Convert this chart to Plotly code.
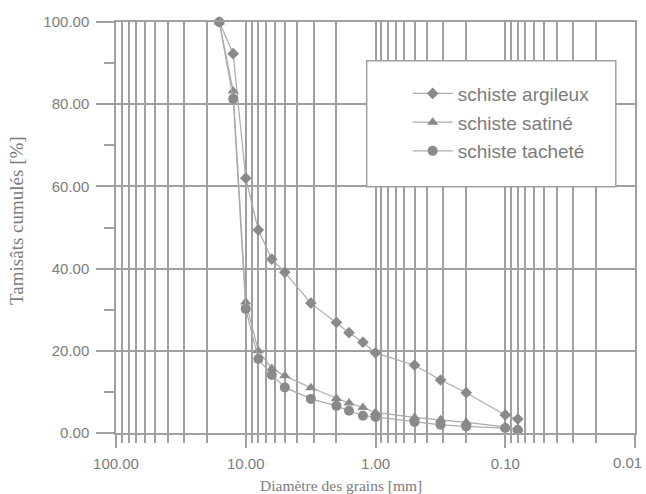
import plotly.graph_objects as go

# Sieve openings (mm) and cumulative passing (%) for the three schist samples
diametres = [16, 12.5, 10, 8, 6.3, 5, 3.15, 2, 1.6, 1.25, 1, 0.5, 0.315, 0.2, 0.1, 0.08]
argileux = [100, 92.3, 62.0, 49.4, 42.3, 39.1, 31.6, 26.9, 24.4, 22.1, 19.5, 16.5, 12.9, 9.8, 4.4, 3.4]
satine = [100, 83.2, 31.9, 20.0, 15.7, 13.9, 11.0, 8.4, 7.3, 6.2, 5.0, 3.8, 3.2, 2.6, 1.5, 1.0]
tachete = [100, 81.3, 30.2, 18.0, 14.1, 11.1, 8.3, 6.6, 5.4, 4.2, 3.9, 2.7, 2.0, 1.6, 1.2, 0.7]

noms = ["schiste argileux", "schiste satiné", "schiste tacheté"]
symboles = ["diamond", "triangle-up", "circle"]
tailles = [9, 10, 10]

# Decade labels; the last one sits at the right edge and is drawn as a
# right-anchored annotation so it stays inside the page
x_major = [100, 10, 1, 0.1, 0.01]
x_major_text = ["100.00", "10.00", "1.00", "0.10", ""]
x_last_label = "0.01"
x_minor = [m * d for d in [10, 1, 0.1, 0.01] for m in range(2, 10)]

GRID = "#a0a0a0"
TXT = "#7c7c7c"
MARK = "#8a8a8a"
LINE = "#ababab"

fig = go.Figure()
for i, (nom, serie) in enumerate(zip(noms, [argileux, satine, tachete])):
    fig.add_trace(go.Scatter(
        x=diametres, y=serie, name=nom, mode="lines+markers",
        line=dict(color=LINE, width=1.2),
        marker=dict(symbol=symboles[i], size=tailles[i], color=MARK),
        cliponaxis=False, legendgroup=nom,
    ))

fig.update_layout(
    width=646, height=494,
    margin=dict(l=116, r=11, t=22, b=61),
    paper_bgcolor="white", plot_bgcolor="white",
    font=dict(family="Liberation Sans, Arial, sans-serif", color=TXT),
    showlegend=True,
    legend=dict(
        x=0.562, y=0.872, xanchor="left", yanchor="top",
        bgcolor="rgba(0,0,0,0)", borderwidth=0,
        font=dict(size=19, color=TXT), itemwidth=40,
        traceorder="grouped", tracegroupgap=1,
    ),
    shapes=[dict(
        type="rect", xref="paper", yref="paper",
        x0=0.483, x1=0.963, y0=0.599, y1=0.906,
        fillcolor="white", line=dict(color=GRID, width=1.5), layer="above",
    )],
    annotations=[
        dict(text=x_last_label, xref="paper", yref="paper",
             x=(644 - 116) / 519, y=-0.0723, xanchor="right", yanchor="middle",
             showarrow=False, font=dict(size=15, color=TXT)),
        dict(text="Diamètre des grains [mm]", xref="paper", yref="paper",
             x=(341 - 116) / 519, y=-0.127, xanchor="center", yanchor="middle",
             showarrow=False, font=dict(family="Liberation Serif, Times New Roman, serif", size=15.5, color=TXT)),
        dict(text="Tamisâts cumulés [%]", xref="paper", yref="paper",
             x=-0.193, y=0.518, xanchor="center", yanchor="middle", textangle=-90,
             showarrow=False, font=dict(family="Liberation Serif, Times New Roman, serif", size=19, color=TXT)),
    ],
)

fig.update_xaxes(
    type="log", range=[2, -2], automargin=False,
    tickmode="array", tickvals=x_major, ticktext=x_major_text,
    ticks="outside", ticklen=13, tickwidth=1.5, tickcolor=GRID,
    showgrid=True, gridcolor=GRID, gridwidth=1.5,
    minor=dict(tickmode="array", tickvals=x_minor, ticks="outside", ticklen=8,
               tickwidth=1.5, tickcolor=GRID, showgrid=True, gridcolor=GRID, gridwidth=1.5),
    showline=True, linecolor=GRID, linewidth=1.5, mirror=True,
    tickfont=dict(size=15, color=TXT), ticklabelstandoff=3,
    zeroline=False,
)
fig.update_yaxes(
    range=[0, 100], dtick=20, tick0=0, tickformat=".2f", automargin=False,
    ticks="outside", ticklen=18, tickwidth=1.5, tickcolor=GRID,
    showgrid=True, gridcolor=GRID, gridwidth=1.5,
    minor=dict(dtick=10, ticks="outside", ticklen=10, tickwidth=1.5, tickcolor=GRID, showgrid=False),
    showline=True, linecolor=GRID, linewidth=1.5, mirror=True,
    tickfont=dict(size=15, color=TXT), ticklabelstandoff=4,
    zeroline=False,
)

fig.write_html("out.html")
